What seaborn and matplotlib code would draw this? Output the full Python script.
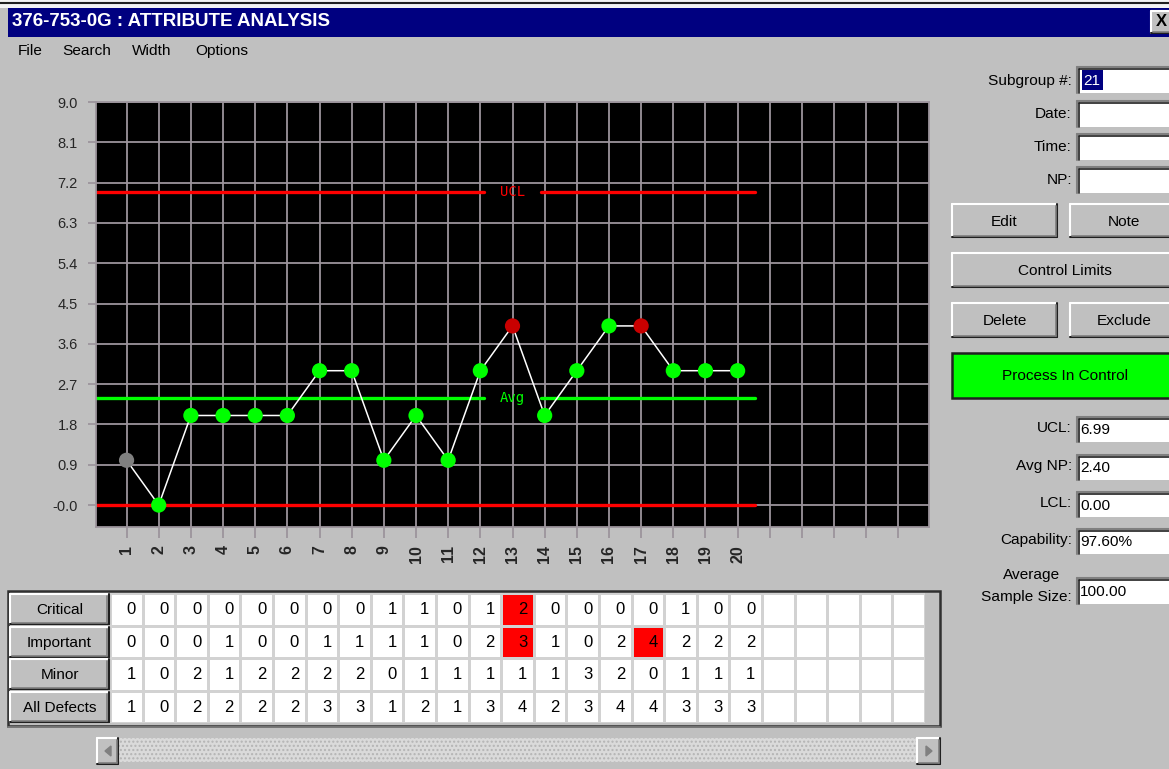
import numpy as np
import pandas as pd
import matplotlib
matplotlib.use("Agg")
import matplotlib.pyplot as plt
import seaborn as sns
from matplotlib.patches import Rectangle, Polygon
from matplotlib.lines import Line2D
from matplotlib.colors import ListedColormap
from matplotlib import font_manager

# ---------------- data ----------------
subgroups = list(range(1, 21))
n_slots = 25
critical = [0, 0, 0, 0, 0, 0, 0, 0, 1, 1, 0, 1, 2, 0, 0, 0, 0, 1, 0, 0]
important = [0, 0, 0, 1, 0, 0, 1, 1, 1, 1, 0, 2, 3, 1, 0, 2, 4, 2, 2, 2]
minor = [1, 0, 2, 1, 2, 2, 2, 2, 0, 1, 1, 1, 1, 1, 3, 2, 0, 1, 1, 1]
all_defects = [1, 0, 2, 2, 2, 2, 3, 3, 1, 2, 1, 3, 4, 2, 3, 4, 4, 3, 3, 3]
point_status = ["excluded"] + ["ok"] * 11 + ["flag"] + ["ok"] * 3 + ["flag"] + ["ok"] * 3
row_labels = ["Critical", "Important", "Minor", "All Defects"]
highlighted = [("Critical", 13), ("Important", 13), ("Important", 17)]
y_ticks = [9.0, 8.1, 7.2, 6.3, 5.4, 4.5, 3.6, 2.7, 1.8, 0.9, 0.0]
y_tick_labels = ["9.0", "8.1", "7.2", "6.3", "5.4", "4.5", "3.6", "2.7", "1.8", "0.9", "-0.0"]
ucl, avg_np, lcl = 6.99, 2.40, 0.00
title = "376-753-0G : ATTRIBUTE ANALYSIS"
menu_items = ["File", "Search", "Width", "Options"]
subgroup_no = "21"
capability = "97.60%"
avg_sample_size = "100.00"

# ---------------- fonts ----------------
names = {f.name for f in font_manager.fontManager.ttflist}
if "Liberation Sans Narrow" in names:
    UI = "Liberation Sans Narrow"
    k = 1.0
else:
    UI = "Liberation Sans"
    k = 0.85
BASE = "Liberation Sans" if "Liberation Sans" in names else "DejaVu Sans"

sns.set_style("white")
plt.rcParams["font.family"] = [BASE, "DejaVu Sans"]

W, H = 1169, 769
fig = plt.figure(figsize=(W / 100, H / 100), dpi=100, facecolor="#c0c0c0")


def fy(y):
    return 1 - y / H


def rect(x, y, w, h, fc, ec="none", lw=0, z=1, **kw):
    fig.add_artist(Rectangle((x / W, 1 - (y + h) / H), w / W, h / H,
                             transform=fig.transFigure, facecolor=fc,
                             edgecolor=ec, linewidth=lw, zorder=z, **kw))


def seg(x0, y0, x1, y1, color, lw=1.0, z=2):
    fig.add_artist(Line2D([x0 / W, x1 / W], [fy(y0), fy(y1)],
                          transform=fig.transFigure, color=color, lw=lw, zorder=z))


def text(x, y, s, size=13, ha="left", va="center", color="black", family=None, **kw):
    fig.text(x / W, fy(y), s, fontsize=size * (k if family is None else 1),
             ha=ha, va=va, color=color, family=family or UI, zorder=5, **kw)


def button(x, y, w, h, label="", size=13):
    rect(x, y, w, h, "#c0c0c0", z=2)
    seg(x, y, x + w, y, "white", 1.5, 3)
    seg(x, y, x, y + h, "white", 1.5, 3)
    seg(x, y + h, x + w, y + h, "#202020", 1.5, 3)
    seg(x + w, y, x + w, y + h, "#202020", 1.5, 3)
    seg(x + 1.5, y + h - 1.5, x + w - 1.5, y + h - 1.5, "#808080", 1.2, 3)
    seg(x + w - 1.5, y + 1.5, x + w - 1.5, y + h - 1.5, "#808080", 1.2, 3)
    if label:
        text(x + w / 2, y + h / 2 + 1, label, size=size, ha="center")


def inbox(x, y, w, h, value="", highlight=False):
    rect(x, y, w, h, "white", z=2)
    seg(x, y, x + w, y, "#808080", 1.5, 3)
    seg(x, y, x, y + h, "#808080", 1.5, 3)
    seg(x + 1.5, y + 1.5, x + w, y + 1.5, "#202020", 1.2, 3)
    seg(x + 1.5, y + 1.5, x + 1.5, y + h, "#202020", 1.2, 3)
    if value:
        if highlight:
            rect(x + 5, y + 3, 21, h - 6, "#000080", z=4)
            text(x + 6, y + h / 2 + 1, value, size=13, color="white")
        else:
            text(x + 3, y + h / 2 + 1, value, size=13)


# ---------------- window chrome ----------------
rect(0, 0, W, 8, "#f4f4f4", z=1)
seg(0, 3, W, 3, "#202020", 1.5, 2)
rect(8, 8, W - 8, 29, "#000080", z=1)
text(12, 22, title, size=13.5, color="white", family=BASE, fontweight="bold")
button(1151, 11, 22, 22)
text(1161, 22, "X", size=12, ha="center", family=BASE, fontweight="bold")
for lbl, mx in zip(menu_items, [18, 62, 132, 195]):
    text(mx, 51, lbl, size=13)

# ---------------- main control chart ----------------
ax = fig.add_axes([96 / W, 1 - 527 / H, (929 - 96) / W, (527 - 102) / H])
ax.set_facecolor("black")
grid_c = "#9c949c"
df = pd.DataFrame({"subgroup": subgroups, "np": all_defects, "status": point_status})
sns.lineplot(data=df, x="subgroup", y="np", color="white", lw=1.1, ax=ax, zorder=3)
sns.scatterplot(data=df, x="subgroup", y="np", hue="status",
                palette={"ok": "#00ff00", "flag": "#c80000", "excluded": "#808080"},
                s=120, edgecolor="none", legend=False, ax=ax, zorder=4)

x0, x1 = 0.05, 25.95
line_end = subgroups[-1] + 0.54
lab_x, gap = 13.0, 0.88
ax.plot([x0, lab_x - gap], [ucl, ucl], color="#ff0000", lw=2.4, zorder=2)
ax.plot([lab_x + gap, line_end], [ucl, ucl], color="#ff0000", lw=2.4, zorder=2)
ax.text(lab_x, ucl, "UCL", color="#ff0000", ha="center", va="center",
        fontsize=10, family="DejaVu Sans Mono")
ax.plot([x0, lab_x - gap], [avg_np, avg_np], color="#00ff00", lw=2.4, zorder=2)
ax.plot([lab_x + gap, line_end], [avg_np, avg_np], color="#00ff00", lw=2.4, zorder=2)
ax.text(lab_x, avg_np, "Avg", color="#00ff00", ha="center", va="center",
        fontsize=10, family="DejaVu Sans Mono")
ax.plot([x0, line_end], [lcl, lcl], color="#ff0000", lw=2.4, zorder=2)

ax.set_xlim(x0, x1)
ax.set_ylim(-0.49, 9.0)
ax.set_xticks(range(1, n_slots + 1))
ax.set_xticklabels([str(i) if i <= len(subgroups) else "" for i in range(1, n_slots + 1)],
                   rotation=90, fontsize=11.5, fontweight="bold")
ax.set_yticks(y_ticks)
ax.set_yticklabels(y_tick_labels, fontsize=10.5)
ax.grid(True, color=grid_c, lw=1.3)
ax.set_axisbelow(True)
for sp in ax.spines.values():
    sp.set_color(grid_c)
    sp.set_linewidth(1.3)
ax.tick_params(axis="y", length=6, width=1.3, color=grid_c, pad=7, left=True)
ax.tick_params(axis="x", length=8, width=1.3, color=grid_c, pad=5, bottom=True)
ax.set_xlabel("")
ax.set_ylabel("")

# ---------------- data table ----------------
rect(8, 591, 932, 135, "#c0c0c0", ec="#303030", lw=1.8, z=0)
seg(8, 727, 940, 727, "#808080", 1.2, 0)
tax = fig.add_axes([110 / W, 1 - 723 / H, (925 - 110) / W, (723 - 593) / H])
rows = [critical, important, minor, all_defects]
flags = np.zeros((len(row_labels), n_slots))
for rname, sg in highlighted:
    flags[row_labels.index(rname), sg - 1] = 1
sns.heatmap(flags, cmap=ListedColormap(["#ffffff", "#ff0000"]), vmin=0, vmax=1,
            cbar=False, linewidths=0.9, linecolor="#d2d2d2", ax=tax,
            xticklabels=False, yticklabels=False)
for i, vals in enumerate(rows):
    for j, v in enumerate(vals):
        tax.text(j + 0.8, i + 0.52, str(v), ha="right", va="center",
                 fontsize=12, family=UI, color="black")
tax.set_xlabel("")
tax.set_ylabel("")

row_tops = [594, 627, 659, 692]
for lbl, ty in zip(row_labels, row_tops):
    button(10, ty, 99, 30, lbl, size=13)

# scrollbar
rect(118, 738, 800, 24, "#dadada", ec="#b4b4b4", lw=0, z=1, hatch="....")
button(97, 738, 21, 26)
button(917, 738, 23, 26)
fig.add_artist(Polygon([[(111) / W, fy(746)], [(111) / W, fy(756)], [(105) / W, fy(751)]],
                       closed=True, transform=fig.transFigure, color="#808080", zorder=4))
fig.add_artist(Polygon([[(926) / W, fy(746)], [(926) / W, fy(756)], [(932) / W, fy(751)]],
                       closed=True, transform=fig.transFigure, color="#808080", zorder=4))

# ---------------- right panel ----------------
LX = 1072
BX = 1077
BW = 100
text(LX, 81, "Subgroup #:", ha="right")
inbox(BX, 67, BW, 26, subgroup_no, highlight=True)
text(LX, 114, "Date:", ha="right")
inbox(BX, 101, BW, 26)
text(LX, 147, "Time:", ha="right")
inbox(BX, 134, BW, 26)
text(LX, 180, "NP:", ha="right")
inbox(BX, 167, BW, 26)

button(952, 204, 105, 33, "Edit")
button(1070, 204, 108, 33, "Note")
button(952, 253, 226, 34, "Control Limits")
button(952, 303, 105, 34, "Delete")
button(1070, 303, 108, 34, "Exclude")
rect(952, 353, 226, 45, "#00ff00", ec="#202020", lw=1.8, z=2)
text(1065, 376, "Process In Control", ha="center")

text(LX, 428, "UCL:", ha="right")
inbox(BX, 417, BW, 25, f"{ucl:.2f}")
text(LX, 466, "Avg NP:", ha="right")
inbox(BX, 455, BW, 25, f"{avg_np:.2f}")
text(LX, 503, "LCL:", ha="right")
inbox(BX, 492, BW, 25, f"{lcl:.2f}")
text(LX, 540, "Capability:", ha="right")
inbox(BX, 529, BW, 25, capability)
text(1032, 575, "Average", ha="center")
text(LX, 597, "Sample Size:", ha="right")
inbox(BX, 578, BW, 26, avg_sample_size)

fig.savefig("out.png", dpi=100, facecolor=fig.get_facecolor())
